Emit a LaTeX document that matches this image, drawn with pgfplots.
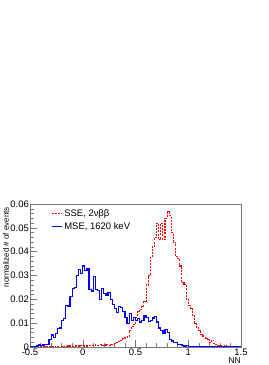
\documentclass[border=0pt]{standalone}
\usepackage{fontspec}
\setmainfont{Liberation Sans}
\usepackage{pgfplots}
\usepackage{pgfplotstable}
\pgfplotsset{compat=1.18}
\definecolor{rootred}{RGB}{255,0,0}
\definecolor{rootblue}{RGB}{0,0,255}
\definecolor{framegray}{RGB}{120,120,120}
\pgfplotstableread{
x y
-0.50 0
-0.48 0
-0.46 0.0002
-0.44 0.0004
-0.42 0.0008
-0.40 0.0006
-0.38 0.0008
-0.36 0.0010
-0.34 0.0012
-0.32 0.0030
-0.30 0.0050
-0.28 0.0040
-0.26 0.0058
-0.24 0.0078
-0.22 0.0080
-0.20 0.0110
-0.18 0.0118
-0.16 0.0175
-0.14 0.0172
-0.12 0.0212
-0.10 0.0245
-0.08 0.0250
-0.06 0.0300
-0.04 0.0325
-0.02 0.0310
0.00 0.0340
0.02 0.0320
0.04 0.0330
0.06 0.0240
0.08 0.0235
0.10 0.0295
0.12 0.0240
0.14 0.0238
0.16 0.0200
0.18 0.0245
0.20 0.0225
0.22 0.0218
0.24 0.0230
0.26 0.0200
0.28 0.0178
0.30 0.0162
0.32 0.0145
0.34 0.0170
0.36 0.0165
0.38 0.0148
0.40 0.0125
0.42 0.0098
0.44 0.0140
0.46 0.0112
0.48 0.0125
0.50 0.0110
0.52 0.0120
0.54 0.0105
0.56 0.0112
0.58 0.0130
0.60 0.0125
0.62 0.0108
0.64 0.0110
0.66 0.0122
0.68 0.0128
0.70 0.0105
0.72 0.0080
0.74 0.0070
0.76 0.0058
0.78 0.0072
0.80 0.0060
0.82 0.0030
0.84 0.0025
0.86 0.0020
0.88 0.0018
0.90 0.0010
0.92 0.0012
0.94 0.0006
0.96 0.0004
0.98 0.0005
1.00 0.0002
1.02 0.0003
1.04 0.0001
1.06 0.0002
1.08 0
1.10 0
1.12 0
1.14 0
1.16 0
1.18 0
1.20 0
1.22 0
1.24 0
1.26 0
1.28 0
1.30 0
1.32 0
1.34 0
1.36 0
1.38 0
1.40 0
1.42 0
1.44 0
1.46 0
1.48 0
1.50 0
}\mse
\pgfplotstableread{
x y
-0.50 0
-0.48 0
-0.46 0
-0.44 0
-0.42 0
-0.40 0
-0.38 0
-0.36 0
-0.34 0
-0.32 0
-0.30 0.0002
-0.28 0.0001
-0.26 0.0003
-0.24 0.0002
-0.22 0.0002
-0.20 0.0003
-0.18 0.0002
-0.16 0.0003
-0.14 0.0004
-0.12 0.0003
-0.10 0.0002
-0.08 0.0004
-0.06 0.0003
-0.04 0.0004
-0.02 0.0005
0.00 0.0006
0.02 0.0004
0.04 0.0005
0.06 0.0006
0.08 0.0007
0.10 0.0008
0.12 0.0009
0.14 0.0008
0.16 0.0009
0.18 0.0008
0.20 0.0007
0.22 0.0009
0.24 0.0008
0.26 0.0010
0.28 0.0012
0.30 0.0015
0.32 0.0020
0.34 0.0024
0.36 0.0028
0.38 0.0035
0.40 0.0038
0.42 0.0045
0.44 0.0070
0.46 0.0085
0.48 0.0095
0.50 0.0125
0.52 0.0150
0.54 0.0158
0.56 0.0170
0.58 0.0190
0.60 0.0260
0.62 0.0300
0.64 0.0375
0.66 0.0420
0.68 0.0460
0.70 0.0520
0.72 0.0450
0.74 0.0520
0.76 0.0450
0.78 0.0540
0.80 0.0570
0.82 0.0550
0.84 0.0480
0.86 0.0440
0.88 0.0380
0.90 0.0370
0.92 0.0340
0.94 0.0270
0.96 0.0262
0.98 0.0200
1.00 0.0175
1.02 0.0160
1.04 0.0130
1.06 0.0100
1.08 0.0080
1.10 0.0070
1.12 0.0052
1.14 0.0045
1.16 0.0035
1.18 0.0030
1.20 0.0018
1.22 0.0028
1.24 0.0015
1.26 0.0010
1.28 0.0008
1.30 0.0004
1.32 0.0003
1.34 0.0004
1.36 0.0002
1.38 0.0001
1.40 0
1.42 0
1.44 0
1.46 0
1.48 0
1.50 0
}\sse
\begin{document}
\begin{tikzpicture}
\fill[white] (0,0) rectangle (269bp,365bp);
\path[use as bounding box] (0,0) rectangle (269bp,365bp);
\begin{axis}[
  scale only axis,
  width=211bp, height=143bp,
  at={(30bp,18bp)}, anchor=south west,
  xmin=-0.5, xmax=1.5, ymin=0, ymax=0.06,
  scaled y ticks=false, scaled x ticks=false,
  xtick={-0.5,0,0.5,1,1.5},
  xticklabels={-0.5,0,0.5,1,1.5},
  ytick={0,0.01,0.02,0.03,0.04,0.05,0.06},
  yticklabels={0,0.01,0.02,0.03,0.04,0.05,0.06},
  minor x tick num=4, minor y tick num=4,
  tick align=inside, tick pos=left,
  major tick length=7bp, minor tick length=3.5bp,
  axis line style={framegray, line width=0.6pt},
  every tick/.style={framegray, line width=0.5pt},
  tick label style={font=\fontsize{9.5}{10}\selectfont},
  xticklabel style={inner sep=1bp, yshift=-1bp},
  yticklabel style={inner sep=1bp},
  xlabel={NN},
  xlabel style={at={(axis description cs:1,0)}, anchor=north east, inner sep=0pt, yshift=-10bp, font=\fontsize{8.5}{9}\selectfont},
  ylabel={normalized \# of events},
  ylabel style={at={(axis description cs:0,1)}, anchor=north east, inner sep=0pt, yshift=27bp, xshift=-3bp, font=\fontsize{8}{9}\selectfont},
  legend style={draw=none, fill=none, at={(axis description cs:0,1)}, anchor=north west, xshift=21bp, yshift=-3bp, font=\fontsize{9.5}{10}\selectfont, row sep=1bp, inner sep=0pt},
  legend cell align=left,
  legend image code/.code={\draw[#1] (0cm,0cm) -- (0.35cm,0cm);},
]
\addplot[color=rootred, line width=1.1bp, dash pattern=on 2bp off 1.2bp, const plot mark left] table[x=x,y=y] {\sse};
\addlegendentry{SSE, 2νββ}
\addplot[color=rootblue, line width=1.2bp, const plot mark left] table[x=x,y=y] {\mse};
\addlegendentry{MSE, 1620 keV}
\end{axis}
\end{tikzpicture}
\end{document}
